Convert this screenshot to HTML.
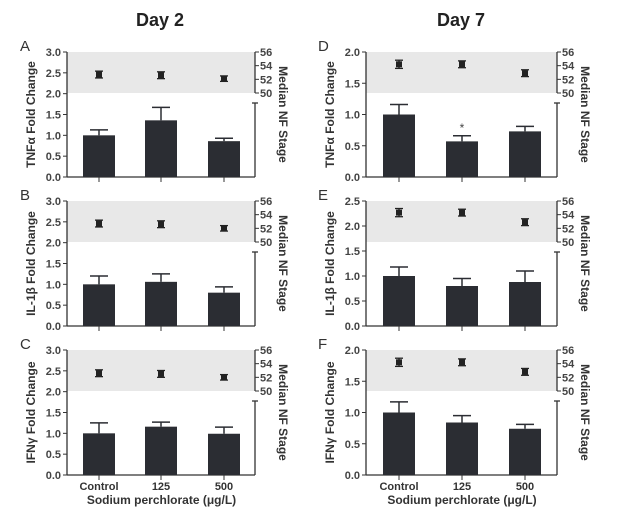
<!DOCTYPE html>
<html><head><meta charset="utf-8"><style>
body{margin:0;background:#fff;}
svg{display:block;font-family:"Liberation Sans",Arial,sans-serif;}
</style></head><body>
<svg id="c" width="636" height="516">
<text x="160" y="26" text-anchor="middle" font-size="18" font-weight="bold" fill="#222">Day 2</text>
<text x="461" y="26" text-anchor="middle" font-size="18" font-weight="bold" fill="#222">Day 7</text>
</svg>
<script>
const categories=["Control","125","500"];
const panelLetters=["A","B","C","D","E","F"];
const yTitles=["TNFα Fold Change","IL-1β Fold Change","IFNγ Fold Change","TNFα Fold Change","IL-1β Fold Change","IFNγ Fold Change"];
const yMax=[3,3,3,2,2.5,2];
const foldA=[1.0,1.36,0.86], errA=[0.13,0.31,0.07], stageA=[52.7,52.6,52.1], stageErrA=[0.5,0.5,0.4];
const foldB=[1.0,1.06,0.80], errB=[0.20,0.19,0.14], stageB=[52.7,52.6,52.0], stageErrB=[0.5,0.5,0.4];
const foldC=[1.0,1.16,0.99], errC=[0.25,0.11,0.16], stageC=[52.6,52.5,52.0], stageErrC=[0.5,0.5,0.4];
const foldD=[1.0,0.57,0.73], errD=[0.16,0.09,0.08], stageD=[54.2,54.2,52.9], stageErrD=[0.6,0.5,0.5];
const foldE=[1.0,0.80,0.88], errE=[0.18,0.15,0.22], stageE=[54.3,54.3,52.9], stageErrE=[0.6,0.5,0.5];
const foldF=[1.0,0.84,0.74], errF=[0.17,0.11,0.07], stageF=[54.2,54.2,52.8], stageErrF=[0.6,0.5,0.5];
const stageTicks=[50,52,54,56];
const folds=[foldA,foldB,foldC,foldD,foldE,foldF];
const errs=[errA,errB,errC,errD,errE,errF];
const stages=[stageA,stageB,stageC,stageD,stageE,stageF];
const stageErrs=[stageErrA,stageErrB,stageErrC,stageErrD,stageErrE,stageErrF];
const sigMarks=[[],[],[],[1],[],[]];

const NS="http://www.w3.org/2000/svg";
const svg=document.getElementById('c');
function mk(tag,attrs,parent){const e=document.createElementNS(NS,tag);for(const k in attrs)e.setAttribute(k,attrs[k]);(parent||svg).appendChild(e);return e;}

for(let p=0;p<6;p++){
  const col=p<3?0:1,row=p%3;
  const x0=col?366:67, x1=col?557:255;
  const top=52+row*149, bot=top+125;
  const g=mk('g',{});
  
  
  const ymax=yMax[p];
  const y=v=>bot-(v/ymax)*(bot-top);
  const bandBot=top+41;
  const s=v=>bandBot-(v-50)/6*(bandBot-top);
  const cx=i=>col?[399,462,525][i]:[99,161,224][i];
  const band=mk('rect',{x:x0,y:top,width:x1-x0,height:bandBot-top,fill:'#e8e8e8'},g);
  
  
  const lt=mk('text',{x:col?318:20,y:top-1,'font-size':15,fill:'#333'},g);lt.textContent=panelLetters[p];
  
  
  // left axis
  mk('line',{x1:x0,y1:top,x2:x0,y2:bot,stroke:'#333','stroke-width':1.3},g);
  mk('line',{x1:x0,y1:bot,x2:x1,y2:bot,stroke:'#333','stroke-width':1.3},g);
  for(let v=0;v<=ymax+1e-9;v+=0.5){
    mk('line',{x1:x0-4,y1:y(v),x2:x0,y2:y(v),stroke:'#333'},g);
    const t=mk('text',{x:x0-6,y:y(v)+4,'font-size':11,'font-weight':'bold',fill:'#444','text-anchor':'end'},g);t.textContent=v.toFixed(1);
    
    
  }
  // right axis
  mk('line',{x1:x1,y1:top,x2:x1,y2:bandBot,stroke:'#333','stroke-width':1.3},g);
  mk('line',{x1:x1,y1:bandBot+10,x2:x1,y2:bot,stroke:'#333','stroke-width':1.3},g);
  mk('line',{x1:x1-3,y1:bandBot+10,x2:x1+3,y2:bandBot+10,stroke:'#333','stroke-width':1.3},g);
  stageTicks.forEach(v=>{
    mk('line',{x1:x1,y1:s(v),x2:x1+4,y2:s(v),stroke:'#333'},g);
    const t=mk('text',{x:x1+5,y:s(v)+4,'font-size':11,'font-weight':'bold',fill:'#444'},g);t.textContent=v;
    
    
  });
  // titles
  const yt=mk('text',{transform:`translate(${x0-32},${(top+bot)/2}) rotate(-90)`,'font-size':12,'font-weight':'bold',fill:'#333','text-anchor':'middle'},g);yt.textContent=yTitles[p];
  
  
  const rt=mk('text',{transform:`translate(${x1+24},${(top+bot)/2}) rotate(90)`,'font-size':12,'font-weight':'bold',fill:'#333','text-anchor':'middle'},g);rt.textContent="Median NF Stage";
  
  
  for(let i=0;i<3;i++){
    const c=cx(i);
    mk('line',{x1:c,y1:bot,x2:c,y2:bot+5,stroke:'#333'},g);
    const v=folds[p][i],e=errs[p][i];
    mk('line',{x1:c,y1:y(v),x2:c,y2:y(v+e),stroke:'#2b2d33','stroke-width':1.5},g);
    mk('line',{x1:c-9,y1:y(v+e),x2:c+9,y2:y(v+e),stroke:'#2b2d33','stroke-width':1.5},g);
    const b=mk('rect',{x:c-16,y:y(v),width:32,height:bot-y(v),fill:'#2b2d33'},g);
    
    
    const sv=stages[p][i],se=stageErrs[p][i];
    mk('line',{x1:c,y1:s(sv-se),x2:c,y2:s(sv+se),stroke:'#222','stroke-width':1.3},g);
    mk('line',{x1:c-4,y1:s(sv-se),x2:c+4,y2:s(sv-se),stroke:'#222','stroke-width':1.3},g);
    mk('line',{x1:c-4,y1:s(sv+se),x2:c+4,y2:s(sv+se),stroke:'#222','stroke-width':1.3},g);
    const m=mk('rect',{x:c-3,y:s(sv)-3,width:6,height:6,fill:'#222'},g);
    
    
    if(sigMarks[p].includes(i)){const st=mk('text',{x:c,y:y(v+e)-4,'font-size':12,fill:'#444','text-anchor':'middle'},g);st.textContent='*';
      
      }
    if(row===2){
      const xl=mk('text',{x:c,y:bot+15,'font-size':11,'font-weight':'bold',fill:'#333','text-anchor':'middle'},g);xl.textContent=categories[i];
      
      
    }
  }
  if(row===2){
    const xt=mk('text',{x:(cx(0)+cx(2))/2,y:bot+29,'font-size':12,'font-weight':'bold',fill:'#333','text-anchor':'middle'},g);xt.textContent="Sodium perchlorate (μg/L)";
    
    
  }
}
</script>
</body></html>
